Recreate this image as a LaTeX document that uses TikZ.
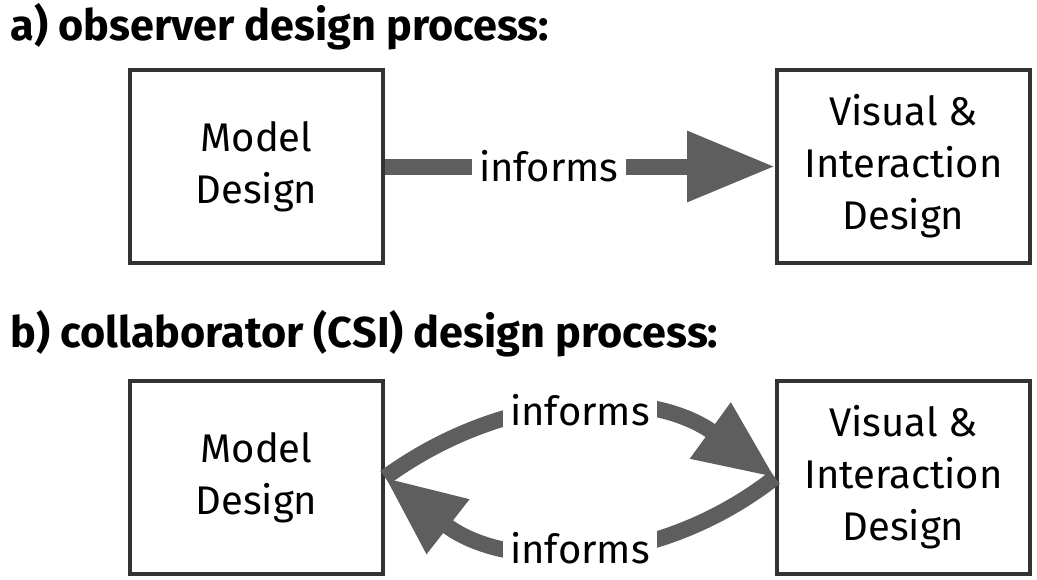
\documentclass[tikz,border=0pt]{standalone}
\usepackage{fontspec}
\setmainfont{Fira Sans}
\usetikzlibrary{arrows.meta, positioning}
\definecolor{arrowgray}{HTML}{5E5E5E}
\definecolor{boxgray}{HTML}{333333}
\tikzset{
  stage/.style={draw=boxgray, line width=2pt, fill=white, minimum width=126.5pt,
    minimum height=96.5pt, inner sep=0pt, align=center,
    font=\fontsize{20}{26}\selectfont},
  heading/.style={anchor=base west, inner sep=0pt, font=\fontsize{21.6}{24}\selectfont\bfseries},
  flow/.style={draw=arrowgray, line width=8pt, -{Triangle[length=44pt, width=33.5pt]}},
  bentflow/.style={draw=arrowgray, line width=8pt, -{Triangle[length=40pt, width=32.5pt]}},
  flowlabel/.style={fill=white, inner xsep=3.5pt, inner ysep=1pt, font=\fontsize{20}{24}\selectfont},
}

\begin{document}
\begin{tikzpicture}[x=0.5pt, y=-0.5pt]
  \useasboundingbox (0,0) rectangle (1037,579);
  % a) one-way process
  \node[heading] (titleA) at (10,40) {a) observer design process:};
  \node[stage] (modelA) at (256.5,166.5) {Model\\Design};
  \node[stage] (visualA) at (903.5,166.5) {Visual \&\\Interaction\\Design};
  \draw[flow] (modelA.east) -- node[flowlabel, pos=0.42] {informs} (visualA.west);

  % b) two-way process
  \node[heading] (titleB) at (10,347) {b) collaborator (CSI) design process:};
  \node[stage] (modelB) at (256.5,477.5) {Model\\Design};
  \node[stage] (visualB) at (903.5,477.5) {Visual \&\\Interaction\\Design};
  \draw[bentflow] (modelB.east) to[bend left=36] node[flowlabel] {informs} (visualB.west);
  \draw[bentflow] (visualB.west) to[bend left=38] node[flowlabel] {informs} (modelB.east);
\end{tikzpicture}
\end{document}
